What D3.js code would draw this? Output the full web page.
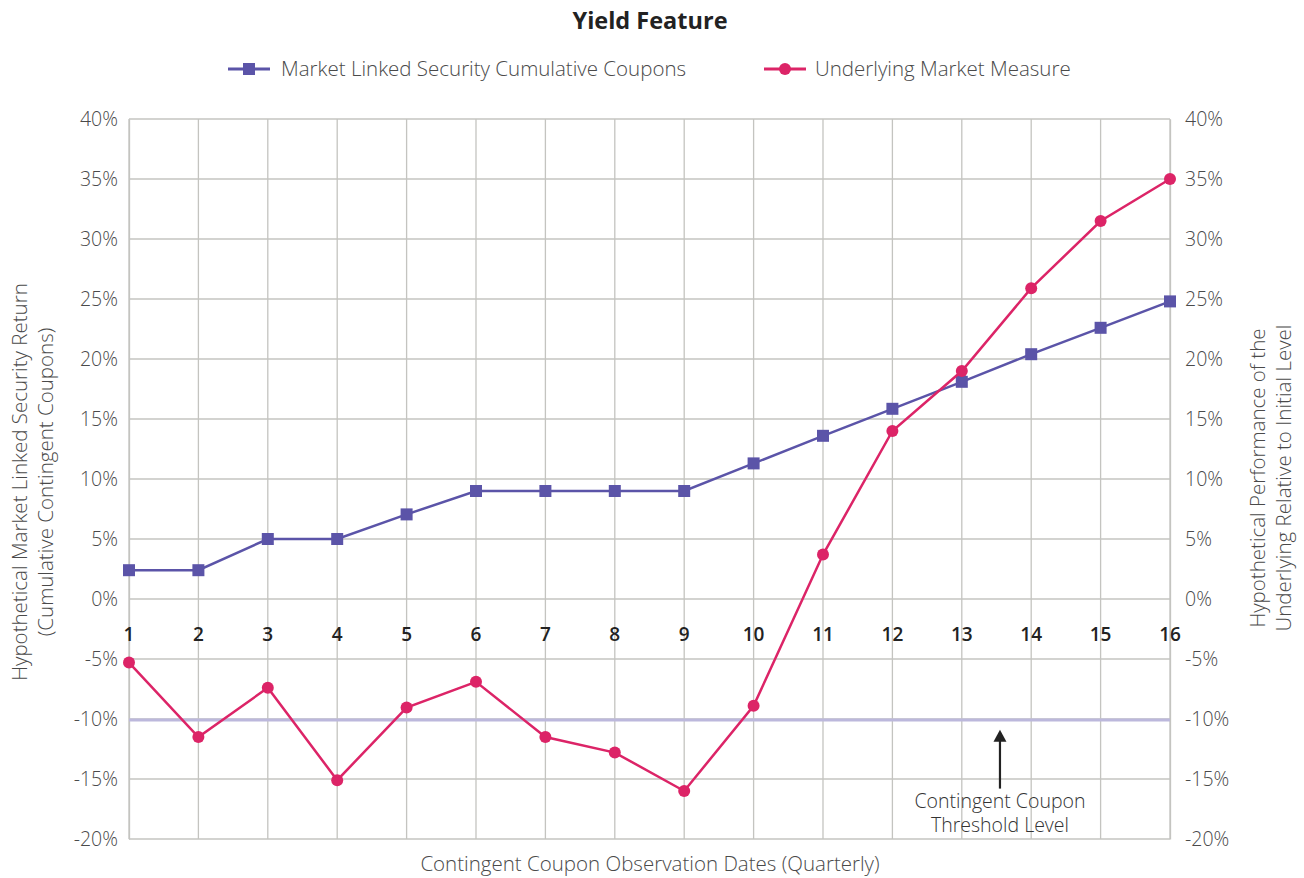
<!DOCTYPE html>
<html>
<head>
<meta charset="utf-8">
<script src="https://cdn.jsdelivr.net/npm/d3@7"></script>
<style>
  html, body { margin: 0; padding: 0; background: #fff; }
  svg { display: block; font-family: "Open Sans", "Noto Sans", sans-serif; }
</style>
</head>
<body>
<svg id="chart" width="1304" height="878"></svg>
<script>
// Observation dates (quarterly)
const dates = [1, 2, 3, 4, 5, 6, 7, 8, 9, 10, 11, 12, 13, 14, 15, 16];
// Cumulative contingent coupons (%), left axis
const cumulativeCoupons = [2.4, 2.4, 5.0, 5.0, 7.05, 9.0, 9.0, 9.0, 9.0, 11.3, 13.6, 15.85, 18.1, 20.4, 22.6, 24.8];
// Underlying performance relative to initial level (%), right axis
const underlyingMeasure = [-5.3, -11.5, -7.4, -15.1, -9.05, -6.9, -11.5, -12.8, -16.0, -8.9, 3.7, 14.0, 19.0, 25.9, 31.5, 35.0];
// Axis ticks (%)
const yTicks = [-20, -15, -10, -5, 0, 5, 10, 15, 20, 25, 30, 35, 40];
// Contingent coupon threshold (%)
const thresholdLevel = -10;

const seriesNames = ["Market Linked Security Cumulative Coupons", "Underlying Market Measure"];
const colors = { coupons: "#5b54a8", underlying: "#dc2467", threshold: "#bcb8dc", grid: "#c4c4c0", text: "#4a4a4a" };

const svg = d3.select("#chart");
const plotLeft = 129, plotRight = 1170, plotTop = 119, plotBottom = 839;
const labelSize = 20.5, tickSize = 19.5;

const x = d3.scaleLinear().domain([1, 16]).range([plotLeft, plotRight]);
const yL = d3.scaleLinear().domain([-20, 40]).range([plotBottom, plotTop]);
const yR = d3.scaleLinear().domain([-20, 40]).range([plotBottom, plotTop]);

// Grid
const grid = svg.append("g");
grid.selectAll("line.h").data(yTicks).enter().append("line")
  .attr("x1", plotLeft).attr("x2", plotRight)
  .attr("y1", d => yL(d)).attr("y2", d => yL(d))
  .attr("stroke", colors.grid).attr("stroke-width", 1.3);
grid.selectAll("line.v").data(dates).enter().append("line")
  .attr("x1", d => x(d)).attr("x2", d => x(d))
  .attr("y1", plotTop).attr("y2", plotBottom)
  .attr("stroke", colors.grid).attr("stroke-width", 1.3);

// Left axis
const leftAxis = svg.append("g").attr("transform", `translate(${plotLeft},0)`)
  .call(d3.axisLeft(yL).tickValues(yTicks).tickSize(0).tickPadding(11).tickFormat(d => d + "%"));
leftAxis.select(".domain").attr("stroke", colors.grid).attr("stroke-width", 1.3);
leftAxis.selectAll("text").attr("font-size", tickSize).attr("fill", colors.text).attr("font-weight", 300)
  .attr("font-family", "'Open Sans', sans-serif");

// Right axis
const rightAxis = svg.append("g").attr("transform", `translate(${plotRight},0)`)
  .call(d3.axisRight(yR).tickValues(yTicks).tickSize(0).tickPadding(15).tickFormat(d => d + "%"));
rightAxis.select(".domain").attr("stroke", colors.grid).attr("stroke-width", 1.3);
rightAxis.selectAll("text").attr("font-size", tickSize).attr("fill", colors.text).attr("font-weight", 300)
  .attr("font-family", "'Open Sans', sans-serif");

// Date labels sit just below the 0% line
svg.append("g").selectAll("text").data(dates).enter().append("text")
  .attr("x", d => x(d)).attr("y", yL(0) + 42)
  .attr("text-anchor", "middle").attr("font-size", 19).attr("font-weight", 600)
  .attr("fill", "#222").text(d => d);

// Threshold line
svg.append("line")
  .attr("x1", plotLeft).attr("x2", plotRight)
  .attr("y1", yR(thresholdLevel) + 1).attr("y2", yR(thresholdLevel) + 1)
  .attr("stroke", colors.threshold).attr("stroke-width", 3);

// Threshold annotation: arrow pointing up at the line
const annX = x(13.55);
svg.append("line")
  .attr("x1", annX).attr("x2", annX).attr("y1", yR(-15.8)).attr("y2", yR(-11.8))
  .attr("stroke", "#222").attr("stroke-width", 2.2);
svg.append("path")
  .attr("d", `M${annX - 6.5},${yR(-11.9)} L${annX},${yR(-10.9)} L${annX + 6.5},${yR(-11.9)} Z`)
  .attr("fill", "#222");
svg.append("text").attr("x", annX).attr("y", yR(-17.4)).attr("text-anchor", "middle")
  .attr("font-size", 19.5).attr("fill", "#333").attr("font-weight", 300).text("Contingent Coupon");
svg.append("text").attr("x", annX).attr("y", yR(-19.45)).attr("text-anchor", "middle")
  .attr("font-size", 19.5).attr("fill", "#333").attr("font-weight", 300).text("Threshold Level");

// Series lines
const lineL = d3.line().x((d, i) => x(dates[i])).y(d => yL(d));
const lineR = d3.line().x((d, i) => x(dates[i])).y(d => yR(d));

svg.append("path").datum(cumulativeCoupons).attr("d", lineL)
  .attr("fill", "none").attr("stroke", colors.coupons).attr("stroke-width", 2.5);
svg.append("g").selectAll("rect").data(cumulativeCoupons).enter().append("rect")
  .attr("x", (d, i) => x(dates[i]) - 6).attr("y", d => yL(d) - 6)
  .attr("width", 12).attr("height", 12).attr("fill", colors.coupons);

svg.append("path").datum(underlyingMeasure).attr("d", lineR)
  .attr("fill", "none").attr("stroke", colors.underlying).attr("stroke-width", 2.5);
svg.append("g").selectAll("circle").data(underlyingMeasure).enter().append("circle")
  .attr("cx", (d, i) => x(dates[i])).attr("cy", d => yR(d))
  .attr("r", 6).attr("fill", colors.underlying);

// Title
svg.append("text").attr("x", 650).attr("y", 29).attr("text-anchor", "middle")
  .attr("font-size", 23.5).attr("font-weight", 700).attr("fill", "#222").text("Yield Feature");

// Legend
const legend = svg.append("g");
const lg1 = legend.append("g").attr("transform", "translate(228,69)");
lg1.append("line").attr("x1", 0).attr("x2", 42).attr("stroke", colors.coupons).attr("stroke-width", 3);
lg1.append("rect").attr("x", 15).attr("y", -6).attr("width", 12).attr("height", 12).attr("fill", colors.coupons);
lg1.append("text").attr("x", 53).attr("y", 7).attr("font-size", labelSize).attr("font-weight", 300)
  .attr("fill", colors.text).text(seriesNames[0]);
const lg2 = legend.append("g").attr("transform", "translate(764,69)");
lg2.append("line").attr("x1", 0).attr("x2", 42).attr("stroke", colors.underlying).attr("stroke-width", 3);
lg2.append("circle").attr("cx", 21).attr("r", 6).attr("fill", colors.underlying);
lg2.append("text").attr("x", 51).attr("y", 7).attr("font-size", labelSize).attr("font-weight", 300)
  .attr("fill", colors.text).text(seriesNames[1]);

// Axis titles
svg.append("text").attr("x", 650).attr("y", 871).attr("text-anchor", "middle")
  .attr("font-size", labelSize).attr("font-weight", 300).attr("fill", colors.text)
  .text("Contingent Coupon Observation Dates (Quarterly)");

const ltitle = svg.append("text").attr("transform", "translate(0,482) rotate(-90)")
  .attr("text-anchor", "middle").attr("font-size", labelSize).attr("font-weight", 300).attr("fill", colors.text);
ltitle.append("tspan").attr("x", 0).attr("y", 27).text("Hypothetical Market Linked Security Return");
ltitle.append("tspan").attr("x", 0).attr("y", 53).text("(Cumulative Contingent Coupons)");

const rtitle = svg.append("text").attr("transform", "translate(1304,478) rotate(-90)")
  .attr("text-anchor", "middle").attr("font-size", labelSize).attr("font-weight", 300).attr("fill", colors.text);
rtitle.append("tspan").attr("x", 0).attr("y", -39).text("Hypothetical Performance of the");
rtitle.append("tspan").attr("x", 0).attr("y", -13).text("Underlying Relative to Initial Level");
</script>
</body>
</html>
